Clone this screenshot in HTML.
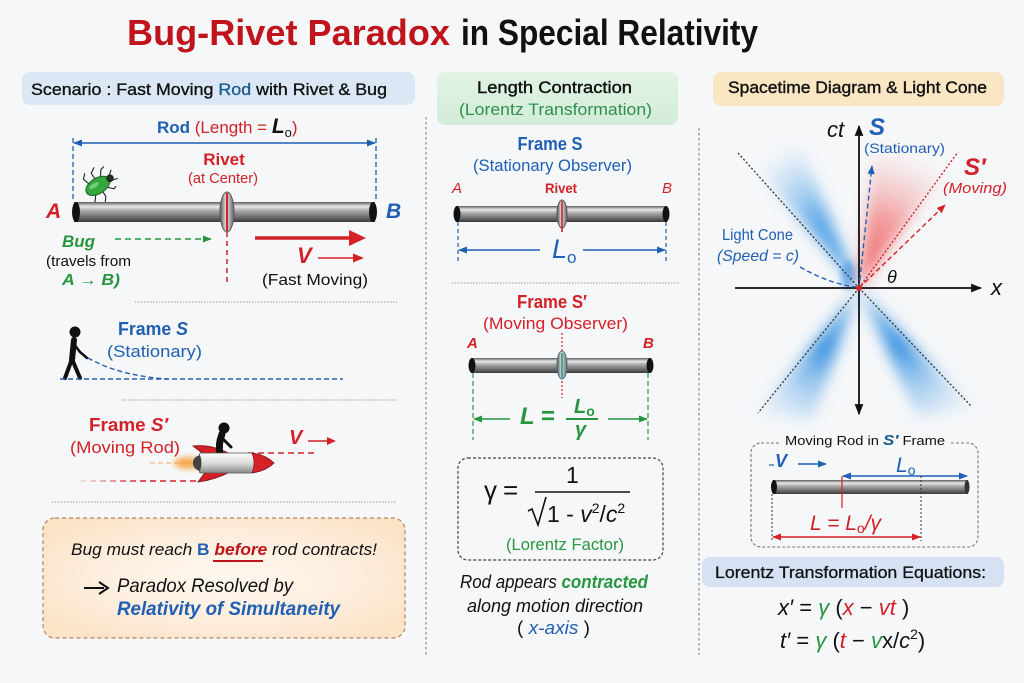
<!DOCTYPE html>
<html><head><meta charset="utf-8"><style>
html,body{margin:0;padding:0;background:#f6f7f9;}
svg{display:block;}
text{font-family:"Liberation Sans","DejaVu Sans",sans-serif;}
</style></head><body>
<svg width="1024" height="683" viewBox="0 0 1024 683" xmlns="http://www.w3.org/2000/svg">
<defs>
 <marker id="mb" viewBox="0 0 10 10" refX="9" refY="5" markerWidth="9" markerHeight="9" markerUnits="userSpaceOnUse" orient="auto-start-reverse"><path d="M0,1 L10,5 L0,9 z" fill="#1f5fb4"/></marker>
 <marker id="mr" viewBox="0 0 10 10" refX="9" refY="5" markerWidth="9" markerHeight="9" markerUnits="userSpaceOnUse" orient="auto-start-reverse"><path d="M0,1 L10,5 L0,9 z" fill="#d42027"/></marker>
 <marker id="mg" viewBox="0 0 10 10" refX="9" refY="5" markerWidth="9" markerHeight="9" markerUnits="userSpaceOnUse" orient="auto-start-reverse"><path d="M0,1 L10,5 L0,9 z" fill="#27963f"/></marker>
 <marker id="mk" viewBox="0 0 10 10" refX="9" refY="5" markerWidth="11" markerHeight="11" markerUnits="userSpaceOnUse" orient="auto-start-reverse"><path d="M0,1 L10,5 L0,9 z" fill="#111"/></marker>
 <linearGradient id="rod" x1="0" y1="0" x2="0" y2="1">
  <stop offset="0" stop-color="#5c5c5c"/>
  <stop offset="0.22" stop-color="#e8e8e8"/>
  <stop offset="0.45" stop-color="#a8a8a8"/>
  <stop offset="0.75" stop-color="#6e6e6e"/>
  <stop offset="1" stop-color="#3a3a3a"/>
 </linearGradient>
 <linearGradient id="riv" x1="0" y1="0" x2="1" y2="0">
  <stop offset="0" stop-color="#555"/><stop offset="0.45" stop-color="#e4e4e4"/><stop offset="1" stop-color="#666"/>
 </linearGradient>
 <linearGradient id="rock" x1="0" y1="0" x2="0" y2="1">
  <stop offset="0" stop-color="#fafafa"/><stop offset="0.5" stop-color="#dcdcdc"/><stop offset="1" stop-color="#8a8a8a"/>
 </linearGradient>
 <radialGradient id="obox" cx="0.5" cy="0.5" r="0.6">
  <stop offset="0" stop-color="#fff8ef"/><stop offset="0.6" stop-color="#fdeedd"/><stop offset="1" stop-color="#fbe3c8"/>
 </radialGradient>
 <linearGradient id="gh" x1="0" y1="0" x2="0" y2="1">
  <stop offset="0" stop-color="#e2f4e5"/><stop offset="1" stop-color="#d2ecd8"/>
 </linearGradient>
 <linearGradient id="bl1" gradientUnits="userSpaceOnUse" x1="859" y1="288" x2="765" y2="160">
  <stop offset="0" stop-color="#3590e0" stop-opacity="1"/><stop offset="0.5" stop-color="#4a9ee6" stop-opacity="0.85"/><stop offset="1" stop-color="#8cc2f0" stop-opacity="0"/>
 </linearGradient>
 <linearGradient id="bl2" gradientUnits="userSpaceOnUse" x1="859" y1="288" x2="775" y2="415">
  <stop offset="0" stop-color="#3590e0" stop-opacity="0.5"/><stop offset="0.45" stop-color="#3590e0" stop-opacity="0.95"/><stop offset="1" stop-color="#8cc2f0" stop-opacity="0.15"/>
 </linearGradient>
 <linearGradient id="bl3" gradientUnits="userSpaceOnUse" x1="859" y1="288" x2="955" y2="410">
  <stop offset="0" stop-color="#3590e0" stop-opacity="0.5"/><stop offset="0.45" stop-color="#3590e0" stop-opacity="0.95"/><stop offset="1" stop-color="#8cc2f0" stop-opacity="0.15"/>
 </linearGradient>
 <linearGradient id="rd1" gradientUnits="userSpaceOnUse" x1="859" y1="288" x2="915" y2="155">
  <stop offset="0" stop-color="#ee4040" stop-opacity="0.9"/><stop offset="0.5" stop-color="#f06060" stop-opacity="0.6"/><stop offset="1" stop-color="#f4a0a0" stop-opacity="0"/>
 </linearGradient>
 <linearGradient id="fadeR" gradientUnits="userSpaceOnUse" x1="80" y1="0" x2="200" y2="0">
  <stop offset="0" stop-color="#d42027" stop-opacity="0.1"/><stop offset="0.5" stop-color="#d42027" stop-opacity="1"/>
 </linearGradient>
 <filter id="bl" x="-50%" y="-50%" width="200%" height="200%"><feGaussianBlur stdDeviation="7"/></filter>
 <filter id="bls" x="-50%" y="-50%" width="200%" height="200%"><feGaussianBlur stdDeviation="3"/></filter>
</defs>

<rect width="1024" height="683" fill="#f6f7f9"/>

<!-- Title -->
<text x="127" y="45" font-size="36" font-weight="bold" fill="#c0141c" textLength="323" lengthAdjust="spacingAndGlyphs">Bug-Rivet Paradox</text>
<text x="461" y="45" font-size="36" font-weight="bold" fill="#111" textLength="297" lengthAdjust="spacingAndGlyphs">in Special Relativity</text>

<!-- Headers -->
<rect x="22" y="72" width="393" height="33" rx="8" fill="#dce7f5"/>
<text x="31" y="95" font-size="17" fill="#111" stroke="#111" stroke-width="0.35" textLength="356" lengthAdjust="spacingAndGlyphs">Scenario : Fast Moving <tspan fill="#1b5e8c" stroke="#1b5e8c">Rod</tspan> with Rivet &amp; Bug</text>

<rect x="437" y="72" width="241" height="53" rx="8" fill="url(#gh)"/>
<text x="477" y="93" font-size="17" fill="#111" stroke="#111" stroke-width="0.4" textLength="155" lengthAdjust="spacingAndGlyphs">Length Contraction</text>
<text x="459" y="115" font-size="17" fill="#2f8f4e" textLength="193" lengthAdjust="spacingAndGlyphs">(Lorentz Transformation)</text>

<rect x="713" y="72" width="291" height="34" rx="8" fill="#fbe6c4"/>
<text x="728" y="93" font-size="17" fill="#111" stroke="#111" stroke-width="0.4" textLength="259" lengthAdjust="spacingAndGlyphs">Spacetime Diagram &amp; Light Cone</text>

<!-- Vertical separators -->
<line x1="426" y1="117" x2="426" y2="655" stroke="#888" stroke-width="1.2" stroke-dasharray="2.5 2.5"/>
<line x1="699" y1="128" x2="699" y2="655" stroke="#888" stroke-width="1.2" stroke-dasharray="2.5 2.5"/>

<!-- ===== LEFT PANEL ===== -->
<text x="157" y="133" font-size="17" fill="#d42027"><tspan fill="#1f5fb4" font-weight="bold">Rod</tspan> (Length = <tspan fill="#111" font-weight="bold" font-style="italic" font-size="21">L</tspan><tspan fill="#111" font-size="13" dy="4">o</tspan><tspan dy="-4">)</tspan></text>
<line x1="74" y1="143" x2="375" y2="143" stroke="#1f5fb4" stroke-width="1.5" marker-start="url(#mb)" marker-end="url(#mb)"/>
<line x1="73" y1="138" x2="73" y2="202" stroke="#1f5fb4" stroke-width="1.3" stroke-dasharray="5 3"/>
<line x1="376" y1="138" x2="376" y2="202" stroke="#1f5fb4" stroke-width="1.3" stroke-dasharray="5 3"/>

<text x="224" y="165" font-size="17" font-weight="bold" fill="#d42027" text-anchor="middle">Rivet</text>
<text x="223" y="183" font-size="15" fill="#d42027" text-anchor="middle" textLength="70" lengthAdjust="spacingAndGlyphs">(at Center)</text>

<!-- bug -->
<g transform="translate(96,187) rotate(-32) scale(1.1)" stroke="#222" stroke-width="1" fill="none">
 <path d="M-4 -6 L-6 -12 L-2 -16 M3 -6 L3 -13 L8 -16 M8 -5 L12 -11 L16 -12 M-4 6 L-8 11 L-12 11 M3 6 L3 12 L0 16 M8 5 L13 10 L16 9 M15 -2 L20 -6 M15 2 L21 4"/>
 <ellipse cx="2" cy="0" rx="12" ry="7" fill="#34a83f" stroke="#1d6a25"/>
 <ellipse cx="-1" cy="-2" rx="5" ry="2" fill="#6fd07a" stroke="none"/>
 <circle cx="15" cy="0" r="3.5" fill="#1c2e1c" stroke="none"/>
</g>

<!-- rod left -->
<rect x="74" y="202" width="301" height="20" fill="url(#rod)"/>
<ellipse cx="76" cy="212" rx="4" ry="10" fill="#111"/>
<ellipse cx="373" cy="212" rx="4" ry="10" fill="#111"/>
<ellipse cx="227" cy="212" rx="7" ry="20" fill="url(#riv)" stroke="#555" stroke-width="1"/>
<line x1="227" y1="193" x2="227" y2="231" stroke="#d42027" stroke-width="2"/>

<text x="46" y="218" font-size="21" font-weight="bold" font-style="italic" fill="#d42027">A</text>
<text x="386" y="218" font-size="21" font-weight="bold" font-style="italic" fill="#1f5fb4">B</text>

<text x="62" y="247" font-size="17" font-weight="bold" font-style="italic" fill="#27963f">Bug</text>
<line x1="115" y1="239" x2="211" y2="239" stroke="#27963f" stroke-width="1.5" stroke-dasharray="6 4" marker-end="url(#mg)"/>
<text x="46" y="266" font-size="15" fill="#111" textLength="85" lengthAdjust="spacingAndGlyphs">(travels from</text>
<text x="62" y="285" font-size="16" fill="#27963f" font-style="italic" font-weight="bold" textLength="58" lengthAdjust="spacingAndGlyphs">A → B)</text>

<line x1="227" y1="232" x2="227" y2="286" stroke="#d42027" stroke-width="1.5" stroke-dasharray="5 4"/>

<line x1="255" y1="238" x2="352" y2="238" stroke="#d42027" stroke-width="3.5"/>
<path d="M349 230 L366 238 L349 246 z" fill="#d42027"/>
<text x="297" y="263" font-size="22" font-weight="bold" font-style="italic" fill="#d42027">V</text>
<line x1="318" y1="258" x2="356" y2="258" stroke="#d42027" stroke-width="1.6"/>
<path d="M353 253.5 L364 258 L353 262.5 z" fill="#d42027"/>
<text x="262" y="285" font-size="16" fill="#111" textLength="106" lengthAdjust="spacingAndGlyphs">(Fast Moving)</text>

<line x1="135" y1="302" x2="397" y2="302" stroke="#999" stroke-width="1" stroke-dasharray="1.5 1.5"/>

<text x="118" y="335" font-size="18" font-weight="bold" fill="#1f5fb4" textLength="70" lengthAdjust="spacingAndGlyphs">Frame <tspan font-style="italic">S</tspan></text>
<text x="107" y="357" font-size="17" fill="#1f5fb4" textLength="95" lengthAdjust="spacingAndGlyphs">(Stationary)</text>

<!-- walking person -->
<circle cx="75" cy="332" r="5.5" fill="#111"/>
<path d="M74 340 L72 360" stroke="#111" stroke-width="6" stroke-linecap="round"/>
<path d="M72 359 L65 378 M72 359 L80 378" stroke="#111" stroke-width="4" stroke-linecap="round" fill="none"/>
<path d="M74 344 L80 352 L87 358" stroke="#111" stroke-width="2.5" stroke-linecap="round" fill="none"/>
<path d="M88 358 Q 120 376 168 379" stroke="#2a5fb0" stroke-width="1.4" stroke-dasharray="5 3" fill="none"/>
<line x1="60" y1="379" x2="343" y2="379" stroke="#2a5fb0" stroke-width="1.4" stroke-dasharray="5 3"/>

<line x1="122" y1="400" x2="398" y2="400" stroke="#999" stroke-width="1" stroke-dasharray="1.5 1.5"/>

<text x="89" y="431" font-size="18" font-weight="bold" fill="#d42027" textLength="79" lengthAdjust="spacingAndGlyphs">Frame <tspan font-style="italic">S′</tspan></text>
<text x="70" y="453" font-size="17" fill="#d42027" textLength="110" lengthAdjust="spacingAndGlyphs">(Moving Rod)</text>

<!-- rocket -->
<ellipse cx="188" cy="463" rx="14" ry="6" fill="#f59a2a" opacity="0.8" filter="url(#bls)"/>
<line x1="150" y1="463" x2="190" y2="463" stroke="#f59a50" stroke-width="1.3" stroke-dasharray="5 3" opacity="0.7"/>
<line x1="80" y1="481" x2="200" y2="481" stroke="url(#fadeR)" stroke-width="1.6" stroke-dasharray="6 4"/>
<line x1="248" y1="453" x2="315" y2="453" stroke="#d42027" stroke-width="1.5" stroke-dasharray="6 4"/>
<path d="M205 455 L193 446 Q 212 444 230 454 z" fill="#d42027" stroke="#7a0f12" stroke-width="0.8"/>
<path d="M207 470 L198 482 Q 215 480 232 471 z" fill="#d42027" stroke="#7a0f12" stroke-width="0.8"/>
<circle cx="224" cy="428" r="5.5" fill="#111"/>
<path d="M222 434 Q 218 444 220 455" stroke="#111" stroke-width="7" stroke-linecap="round" fill="none"/>
<path d="M222 438 L231 447" stroke="#111" stroke-width="3" stroke-linecap="round"/>
<path d="M200 453 L252 453 Q 266 455 274 463 Q 266 471 252 473 L200 473 Q 196 463 200 453 z" fill="url(#rock)" stroke="#555" stroke-width="0.8"/>
<path d="M252 453 Q 266 455 274 463 Q 266 471 252 473 Q 256 463 252 453 z" fill="#d42027" stroke="#7a0f12" stroke-width="0.6"/>
<path d="M200 455 Q 193 457 193 463 Q 193 469 200 471 Q 203 463 200 455 z" fill="#444"/>

<text x="289" y="444" font-size="20" font-weight="bold" font-style="italic" fill="#d42027">V</text>
<line x1="308" y1="441" x2="330" y2="441" stroke="#d42027" stroke-width="1.5"/>
<path d="M327 437 L336 441 L327 445 z" fill="#d42027"/>

<line x1="52" y1="502" x2="397" y2="502" stroke="#999" stroke-width="1" stroke-dasharray="1.5 1.5"/>

<!-- orange box -->
<rect x="43" y="518" width="362" height="120" rx="12" fill="url(#obox)" stroke="#b8845a" stroke-width="1.2" stroke-dasharray="4 3"/>
<text x="71" y="555" font-size="17" font-style="italic" fill="#111" textLength="306" lengthAdjust="spacingAndGlyphs">Bug must reach <tspan fill="#1f5fb4" font-weight="bold" font-style="normal">B</tspan> <tspan fill="#c0141c" font-weight="bold">before</tspan> rod contracts!</text>
<line x1="213" y1="561" x2="263" y2="561" stroke="#c0141c" stroke-width="2"/>
<line x1="84" y1="588" x2="104" y2="588" stroke="#111" stroke-width="2"/>
<path d="M99 582 L108 588 L99 594" stroke="#111" stroke-width="2" fill="none"/>
<text x="117" y="592" font-size="19" font-style="italic" fill="#111" textLength="176" lengthAdjust="spacingAndGlyphs">Paradox Resolved by</text>
<text x="117" y="615" font-size="19" font-style="italic" font-weight="bold" fill="#1f5fb4" textLength="223" lengthAdjust="spacingAndGlyphs">Relativity of Simultaneity</text>

<!-- ===== MIDDLE PANEL ===== -->
<text x="550" y="150" font-size="18" font-weight="bold" fill="#1f5fb4" text-anchor="middle" textLength="65" lengthAdjust="spacingAndGlyphs">Frame S</text>
<text x="473" y="171" font-size="17" fill="#1f5fb4" textLength="159" lengthAdjust="spacingAndGlyphs">(Stationary Observer)</text>
<text x="452" y="193" font-size="15" font-style="italic" fill="#d42027">A</text>
<text x="545" y="193" font-size="14" font-weight="bold" fill="#d42027" textLength="32" lengthAdjust="spacingAndGlyphs">Rivet</text>
<text x="662" y="193" font-size="15" font-style="italic" fill="#d42027">B</text>
<rect x="456" y="206" width="210" height="16" fill="url(#rod)"/>
<ellipse cx="457" cy="214" rx="3.5" ry="8" fill="#111"/>
<ellipse cx="666" cy="214" rx="3.5" ry="8" fill="#111"/>
<ellipse cx="562" cy="214" rx="5" ry="14" fill="url(#riv)" stroke="#555" stroke-width="1"/>
<line x1="562" y1="201" x2="562" y2="232" stroke="#d42027" stroke-width="1.6"/>
<line x1="458" y1="222" x2="458" y2="263" stroke="#1f5fb4" stroke-width="1.2" stroke-dasharray="4 3"/>
<line x1="666" y1="222" x2="666" y2="263" stroke="#1f5fb4" stroke-width="1.2" stroke-dasharray="4 3"/>
<line x1="540" y1="250" x2="459" y2="250" stroke="#1f5fb4" stroke-width="1.5" marker-end="url(#mb)"/>
<line x1="583" y1="250" x2="665" y2="250" stroke="#1f5fb4" stroke-width="1.5" marker-end="url(#mb)"/>
<text x="552" y="258" font-size="27" font-style="italic" fill="#1f5fb4">L<tspan font-size="17" dy="5" font-style="normal">o</tspan></text>

<line x1="452" y1="283" x2="680" y2="283" stroke="#999" stroke-width="1" stroke-dasharray="1.5 1.5"/>

<text x="552" y="308" font-size="18" font-weight="bold" fill="#d42027" text-anchor="middle" textLength="70" lengthAdjust="spacingAndGlyphs">Frame S′</text>
<text x="483" y="329" font-size="17" fill="#d42027" textLength="145" lengthAdjust="spacingAndGlyphs">(Moving Observer)</text>
<text x="467" y="348" font-size="15" font-style="italic" font-weight="bold" fill="#d42027">A</text>
<text x="643" y="348" font-size="15" font-style="italic" font-weight="bold" fill="#d42027">B</text>
<line x1="562" y1="333" x2="562" y2="398" stroke="#d42027" stroke-width="1.2" stroke-dasharray="2 2"/>
<rect x="471" y="358" width="180" height="15" fill="url(#rod)"/>
<ellipse cx="472" cy="365.5" rx="3.5" ry="7.5" fill="#111"/>
<ellipse cx="650" cy="365.5" rx="3.5" ry="7.5" fill="#111"/>
<ellipse cx="562" cy="365" rx="5" ry="14" fill="url(#riv)" stroke="#4a6a80" stroke-width="1"/>
<line x1="562" y1="353" x2="562" y2="378" stroke="#1f9a7a" stroke-width="1.5"/>
<line x1="473" y1="373" x2="473" y2="440" stroke="#27963f" stroke-width="1.2" stroke-dasharray="5 3"/>
<line x1="648" y1="373" x2="648" y2="440" stroke="#27963f" stroke-width="1.2" stroke-dasharray="5 3"/>
<line x1="510" y1="419" x2="474" y2="419" stroke="#27963f" stroke-width="1.5" marker-end="url(#mg)"/>
<line x1="608" y1="419" x2="647" y2="419" stroke="#27963f" stroke-width="1.5" marker-end="url(#mg)"/>
<text x="520" y="424" font-size="24" font-weight="bold" font-style="italic" fill="#27963f">L</text>
<text x="541" y="424" font-size="24" font-weight="bold" fill="#27963f">=</text>
<text x="574" y="413" font-size="20" font-style="italic" font-weight="bold" fill="#27963f">L<tspan font-size="14" dy="3" font-style="normal">o</tspan></text>
<line x1="566" y1="419" x2="598" y2="419" stroke="#27963f" stroke-width="2"/>
<text x="575" y="436" font-size="20" font-style="italic" font-weight="bold" fill="#27963f">γ</text>

<!-- gamma box -->
<rect x="458" y="458" width="205" height="102" rx="10" fill="none" stroke="#444" stroke-width="1.2" stroke-dasharray="3 2"/>
<text x="484" y="499" font-size="26" fill="#111">γ</text>
<text x="503" y="499" font-size="26" fill="#111">=</text>
<text x="566" y="483" font-size="23" fill="#111">1</text>
<line x1="535" y1="492" x2="630" y2="492" stroke="#111" stroke-width="1.5"/>
<path d="M528 511 L532 509 L538 525 L546 497" stroke="#111" stroke-width="1.6" fill="none"/>
<text x="547" y="522" font-size="23" fill="#111">1 - <tspan font-style="italic">v</tspan><tspan font-size="14" dy="-9">2</tspan><tspan dy="9">/</tspan><tspan font-style="italic">c</tspan><tspan font-size="14" dy="-9">2</tspan></text>
<text x="506" y="550" font-size="17" fill="#27963f" textLength="118" lengthAdjust="spacingAndGlyphs">(Lorentz Factor)</text>

<text x="460" y="588" font-size="18" font-style="italic" fill="#111" textLength="188" lengthAdjust="spacingAndGlyphs">Rod appears <tspan fill="#27963f" font-weight="bold">contracted</tspan></text>
<text x="467" y="612" font-size="18" font-style="italic" fill="#111" textLength="176" lengthAdjust="spacingAndGlyphs">along motion direction</text>
<text x="517" y="634" font-size="18" fill="#111" textLength="73" lengthAdjust="spacingAndGlyphs">( <tspan fill="#1f5fb4" font-style="italic">x-axis</tspan> )</text>

<!-- ===== RIGHT PANEL ===== -->
<polygon points="859,288 742,150 800,146" fill="url(#bl1)" filter="url(#bl)"/>
<ellipse cx="848" cy="275" rx="7" ry="14" fill="#4a9ee6" opacity="0.7" filter="url(#bls)"/>
<polygon points="859,288 756,414 812,420" fill="url(#bl2)" filter="url(#bl)"/>
<polygon points="859,288 974,408 918,417" fill="url(#bl3)" filter="url(#bl)"/>
<polygon points="859,288 873,158 962,148" fill="url(#rd1)" filter="url(#bl)"/>

<line x1="738" y1="153" x2="859" y2="288" stroke="#333" stroke-width="1.3" stroke-dasharray="2 2"/>
<line x1="859" y1="288" x2="758" y2="413" stroke="#333" stroke-width="1.3" stroke-dasharray="2 2"/>
<line x1="859" y1="288" x2="972" y2="407" stroke="#333" stroke-width="1.3" stroke-dasharray="2 2"/>

<line x1="859" y1="414" x2="859" y2="126" stroke="#111" stroke-width="1.8" marker-start="url(#mk)" marker-end="url(#mk)"/>
<line x1="735" y1="288" x2="981" y2="288" stroke="#111" stroke-width="1.8" marker-end="url(#mk)"/>

<line x1="859" y1="288" x2="958" y2="152" stroke="#d42027" stroke-width="1.4" stroke-dasharray="2 2"/>
<line x1="859" y1="288" x2="872" y2="166" stroke="#2a5fb0" stroke-width="1.4" stroke-dasharray="5 3" marker-end="url(#mb)"/>
<line x1="859" y1="288" x2="945" y2="205" stroke="#d42027" stroke-width="1.4" stroke-dasharray="5 3" marker-end="url(#mr)"/>
<path d="M800 267 Q 830 284 856 287" stroke="#2a5fb0" stroke-width="1.4" stroke-dasharray="5 3" fill="none"/>
<circle cx="859" cy="288" r="3" fill="#d42027"/>

<text x="827" y="137" font-size="22" font-style="italic" fill="#111">ct</text>
<text x="869" y="135" font-size="24" font-weight="bold" font-style="italic" fill="#1f5fb4">S</text>
<text x="864" y="153" font-size="14" fill="#1f5fb4" textLength="81" lengthAdjust="spacingAndGlyphs">(Stationary)</text>
<text x="964" y="175" font-size="24" font-weight="bold" font-style="italic" fill="#d42027">S′</text>
<text x="943" y="193" font-size="15" font-style="italic" fill="#d42027" textLength="64" lengthAdjust="spacingAndGlyphs">(Moving)</text>
<text x="722" y="240" font-size="16" fill="#1f5fb4" textLength="71" lengthAdjust="spacingAndGlyphs">Light Cone</text>
<text x="717" y="261" font-size="16" font-style="italic" fill="#1f5fb4" textLength="82" lengthAdjust="spacingAndGlyphs">(Speed = c)</text>
<text x="887" y="283" font-size="18" font-style="italic" fill="#111">θ</text>
<text x="991" y="295" font-size="22" font-style="italic" fill="#111">x</text>

<!-- moving rod box -->
<rect x="751" y="443" width="227" height="104" rx="10" fill="none" stroke="#777" stroke-width="1.1" stroke-dasharray="3 2"/>
<rect x="780" y="432" width="170" height="18" fill="#f6f7f9"/>
<text x="785" y="445" font-size="13" fill="#111" textLength="160" lengthAdjust="spacingAndGlyphs">Moving Rod in <tspan fill="#1b5e8c" font-weight="bold" font-style="italic" font-size="15">S′</tspan> Frame</text>
<line x1="769" y1="465" x2="774" y2="465" stroke="#1f5fb4" stroke-width="1.2"/>
<text x="775" y="467" font-size="18" font-weight="bold" font-style="italic" fill="#1f5fb4">V</text>
<line x1="798" y1="464" x2="826" y2="464" stroke="#1f5fb4" stroke-width="1.5" marker-end="url(#mb)"/>
<text x="896" y="472" font-size="21" font-style="italic" fill="#1f5fb4">L<tspan font-size="14" dy="3" font-style="normal">o</tspan></text>
<line x1="843" y1="476" x2="967" y2="476" stroke="#1f5fb4" stroke-width="1.4" marker-start="url(#mb)" marker-end="url(#mb)"/>
<rect x="773" y="480" width="195" height="14" fill="url(#rod)"/>
<ellipse cx="774" cy="487" rx="3" ry="7" fill="#111"/>
<ellipse cx="967" cy="487" rx="2.5" ry="7" fill="#333"/>
<line x1="842" y1="476" x2="842" y2="508" stroke="#d42027" stroke-width="1.2"/>
<line x1="772" y1="494" x2="772" y2="541" stroke="#333" stroke-width="1" stroke-dasharray="2 2"/>
<line x1="921" y1="476" x2="921" y2="541" stroke="#333" stroke-width="1" stroke-dasharray="2 2"/>
<text x="810" y="530" font-size="21" font-style="italic" fill="#d42027">L = L<tspan font-size="14" dy="3" font-style="normal">o</tspan><tspan dy="-3">/γ</tspan></text>
<line x1="773" y1="537" x2="920" y2="537" stroke="#d42027" stroke-width="1.4" marker-start="url(#mr)" marker-end="url(#mr)"/>

<rect x="702" y="557" width="302" height="30" rx="8" fill="#d6e2f4"/>
<text x="715" y="578" font-size="17" fill="#111" stroke="#111" stroke-width="0.3" textLength="271" lengthAdjust="spacingAndGlyphs">Lorentz Transformation Equations:</text>

<text x="778" y="615" font-size="22" fill="#111"><tspan font-style="italic">x′</tspan> = <tspan fill="#27963f" font-style="italic">γ</tspan> (<tspan fill="#d42027" font-style="italic">x</tspan> − <tspan fill="#d42027" font-style="italic">vt</tspan> )</text>
<text x="780" y="648" font-size="22" fill="#111"><tspan font-style="italic">t′</tspan> = <tspan fill="#27963f" font-style="italic">γ</tspan> (<tspan fill="#d42027" font-style="italic">t</tspan> − <tspan fill="#27963f" font-style="italic">v</tspan>x/<tspan font-style="italic">c</tspan><tspan font-size="14" dy="-9">2</tspan><tspan dy="9">)</tspan></text>

</svg>
</body></html>
